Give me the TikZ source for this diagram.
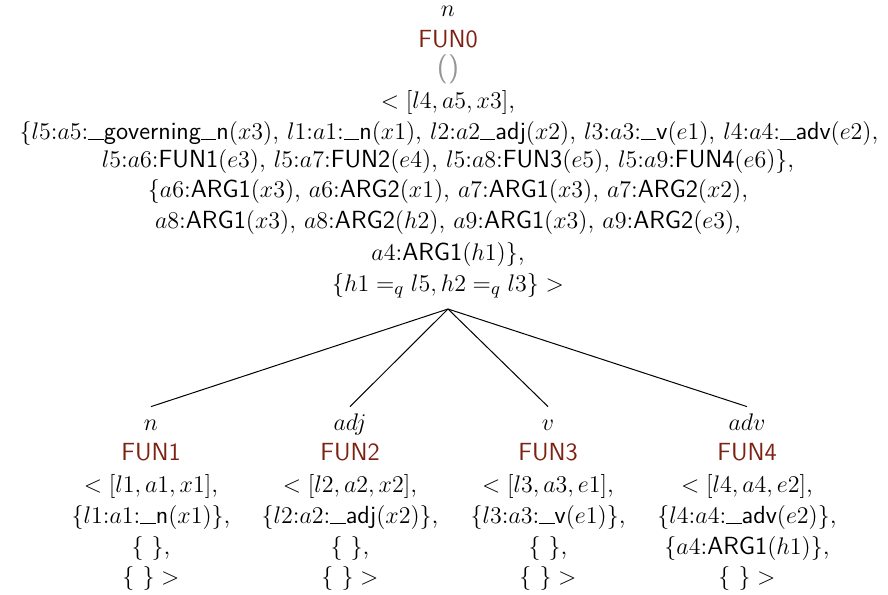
\documentclass[tikz,border=0pt]{standalone}
\usepackage{fontspec}
\definecolor{funred}{RGB}{125,34,18}
\definecolor{parengray}{RGB}{150,150,150}
\newcommand{\sfw}[1]{\textsf{#1}}
\newcommand{\us}{\rule[-0.4pt]{0.62em}{0.45pt}}
\newcommand{\fn}[1]{\textcolor{funred}{\textsf{#1}}}
\begin{document}
\begin{tikzpicture}[x=1pt,y=1pt,
  txt/.style={anchor=base,inner sep=0pt,font=\fontsize{12.4}{15}\selectfont},
  lab/.style={txt,text height=8pt,text depth=2.5pt,inner ysep=3.5pt},
  edge/.style={draw=black,line width=0.5pt}]
\useasboundingbox (0,0) rectangle (444,-297);
% root
\node[txt] (r1) at (224,-8.5) {$n$};
\node[txt] (r2) at (224,-23.5) {\fn{FUN0}};
\node[txt,font=\fontsize{14.5}{16}\selectfont] (r3) at (224,-38) {\textcolor{parengray}{\textsf{()}}};
\node[txt] (r4) at (224,-54) {$<[l4,a5,x3]$,};
\node[txt] (r5) at (224.5,-69.5) {$\{l5$:$a5$:\sfw{\us governing\us n}$(x3)$, $l1$:$a1$:\sfw{\us n}$(x1)$, $l2$:$a2$\sfw{\us adj}$(x2)$, $l3$:$a3$:\sfw{\us v}$(e1)$, $l4$:$a4$:\sfw{\us adv}$(e2)$,};
\node[txt] (r6) at (224,-83.5) {$l5$:$a6$:\sfw{FUN1}$(e3)$, $l5$:$a7$:\sfw{FUN2}$(e4)$, $l5$:$a8$:\sfw{FUN3}$(e5)$, $l5$:$a9$:\sfw{FUN4}$(e6)\}$,};
\node[txt] (r7) at (224,-98.5) {$\{a6$:\sfw{ARG1}$(x3)$, $a6$:\sfw{ARG2}$(x1)$, $a7$:\sfw{ARG1}$(x3)$, $a7$:\sfw{ARG2}$(x2)$,};
\node[txt] (r8) at (224,-114) {$a8$:\sfw{ARG1}$(x3)$, $a8$:\sfw{ARG2}$(h2)$, $a9$:\sfw{ARG1}$(x3)$, $a9$:\sfw{ARG2}$(e3)$,};
\node[txt] (r9) at (224,-130) {$a4$:\sfw{ARG1}$(h1)\}$,};
\node[txt] (r10) at (224,-145.5) {$\{h1=_q l5, h2=_q l3\} >$};
\coordinate (apex) at (224,-154.5);
% child 1
\node[lab] (c1) at (75.5,-215) {$n$};
\node[txt] (c1b) at (75.5,-230) {\fn{FUN1}};
\node[txt] (c1c) at (75.5,-246) {$<[l1,a1,x1]$,};
\node[txt] (c1d) at (75.5,-261.5) {$\{l1$:$a1$:\sfw{\us n}$(x1)\}$,};
\node[txt] (c1e) at (75.5,-277) {$\{\ \}$,};
\node[txt] (c1f) at (75.5,-292) {$\{\ \}>$};
% child 2
\node[lab] (c2) at (175,-215) {$adj$};
\node[txt] (c2b) at (175,-230) {\fn{FUN2}};
\node[txt] (c2c) at (175,-246) {$<[l2,a2,x2]$,};
\node[txt] (c2d) at (175,-261.5) {$\{l2$:$a2$:\sfw{\us adj}$(x2)\}$,};
\node[txt] (c2e) at (175,-277) {$\{\ \}$,};
\node[txt] (c2f) at (175,-292) {$\{\ \}>$};
% child 3
\node[lab] (c3) at (274,-215) {$v$};
\node[txt] (c3b) at (274,-230) {\fn{FUN3}};
\node[txt] (c3c) at (274,-246) {$<[l3,a3,e1]$,};
\node[txt] (c3d) at (274,-261.5) {$\{l3$:$a3$:\sfw{\us v}$(e1)\}$,};
\node[txt] (c3e) at (274,-277) {$\{\ \}$,};
\node[txt] (c3f) at (274,-292) {$\{\ \}>$};
% child 4
\node[lab] (c4) at (373.5,-215) {$adv$};
\node[txt] (c4b) at (373.5,-230) {\fn{FUN4}};
\node[txt] (c4c) at (373.5,-246) {$<[l4,a4,e2]$,};
\node[txt] (c4d) at (373.5,-261.5) {$\{l4$:$a4$:\sfw{\us adv}$(e2)\}$,};
\node[txt] (c4e) at (373.5,-277) {$\{a4$:\sfw{ARG1}$(h1)\}$,};
\node[txt] (c4f) at (373.5,-292) {$\{\ \}>$};
% edges
\draw[edge] (apex) -- (c1.north);
\draw[edge] (apex) -- (c2.north);
\draw[edge] (apex) -- (c3.north);
\draw[edge] (apex) -- (c4.north);
\end{tikzpicture}
\end{document}
